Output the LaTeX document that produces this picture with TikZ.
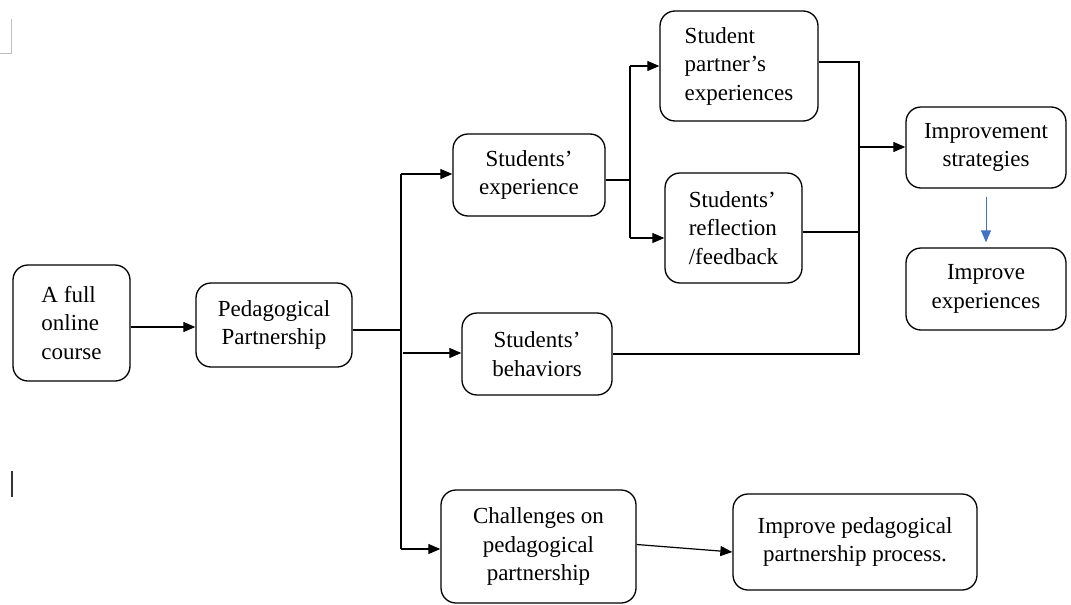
\documentclass[tikz,border=0pt]{standalone}
\usepackage{fontspec}
\setmainfont{Liberation Serif}
\usetikzlibrary{arrows.meta}
\definecolor{wordblue}{HTML}{4472C4}
\begin{document}
\begin{tikzpicture}[x=1pt,y=-1pt,
  box/.style={draw, rounded corners=15pt, line width=1.3pt, inner sep=0pt,
    font=\fontsize{23}{28.5}\selectfont, align=center},
  conn/.style={line width=1.2pt},
  arr/.style={conn, -{Triangle[length=12pt,width=10pt]}}]
\useasboundingbox (0,0) rectangle (1071,605);

% boxes
\node[box, minimum width=117pt, minimum height=116pt, align=left] (course) at (71.5,323) {A full\\online\\course};
\node[box, minimum width=156pt, minimum height=84pt] (ped) at (274,325) {Pedagogical\\Partnership};
\node[box, minimum width=152pt, minimum height=82pt] (sexp) at (529,175) {Students’\\experience};
\node[box, minimum width=158pt, minimum height=110pt, align=left] (spe) at (739,66) {Student\\partner’s\\experiences};
\node[box, minimum width=137pt, minimum height=110pt, align=left] (refl) at (733.5,228) {Students’\\reflection\\/feedback};
\node[box, minimum width=150pt, minimum height=82pt] (beh) at (537,354) {Students’\\behaviors};
\node[box, minimum width=195pt, minimum height=113pt] (chal) at (538.5,546.5) {Challenges on\\pedagogical\\partnership};
\node[box, minimum width=244pt, minimum height=96pt] (ipp) at (855,542) {Improve pedagogical\\partnership process.};
\node[box, minimum width=160pt, minimum height=81pt] (istr) at (986,147.5) {Improvement\\strategies};
\node[box, minimum width=160pt, minimum height=82pt] (iexp) at (986,289) {Improve\\experiences};

% course -> partnership
\coordinate (a1) at (130,327);
\draw[arr] (course.east |- a1) -- (ped.west |- a1);

% first trunk
\coordinate (t1) at (401,330);
\coordinate (t1top) at (401,174);
\coordinate (t1mid) at (403,353);
\coordinate (t1bot) at (401,549);
\draw[conn] (ped.east |- t1) -- (t1);
\draw[conn] (t1top) -- (t1bot);
\draw[arr] (t1top) -- (t1top -| sexp.west);
\draw[arr] (t1mid) -- (t1mid -| beh.west);
\draw[arr] (t1bot) -- (t1bot -| chal.west);

% second trunk
\coordinate (t2) at (630,180);
\coordinate (t2top) at (630,66);
\coordinate (t2bot) at (630,238);
\draw[conn] (sexp.east |- t2) -- (t2);
\draw[conn] (t2top) -- (t2bot);
\draw[arr] (t2top) -- (t2top -| spe.west);
\draw[arr] (t2bot) -- (t2bot -| refl.west);

% collector
\coordinate (c1) at (859,62);
\coordinate (c2) at (859,232);
\coordinate (c3) at (859,354);
\coordinate (c4) at (859,147);
\draw[conn] (spe.east |- c1) -- (c1) -- (c3) -- (beh.east |- c3);
\draw[conn] (refl.east |- c2) -- (c2);
\draw[arr] (c4) -- (c4 -| istr.west);

% blue arrow
\draw[arr, wordblue, line width=1pt] ([yshift=-8pt]istr.south) -- ([yshift=5pt]iexp.north);

% challenges -> improve process
\draw[arr] ([yshift=2pt]chal.east) -- ([yshift=-10pt]ipp.west);

% page artifacts
\draw[black!25, line width=1pt] (11,19) -- (11,53) -- (0,53);
\draw[black!80, line width=1.3pt] (12,471) -- (12,497);
\end{tikzpicture}
\end{document}
